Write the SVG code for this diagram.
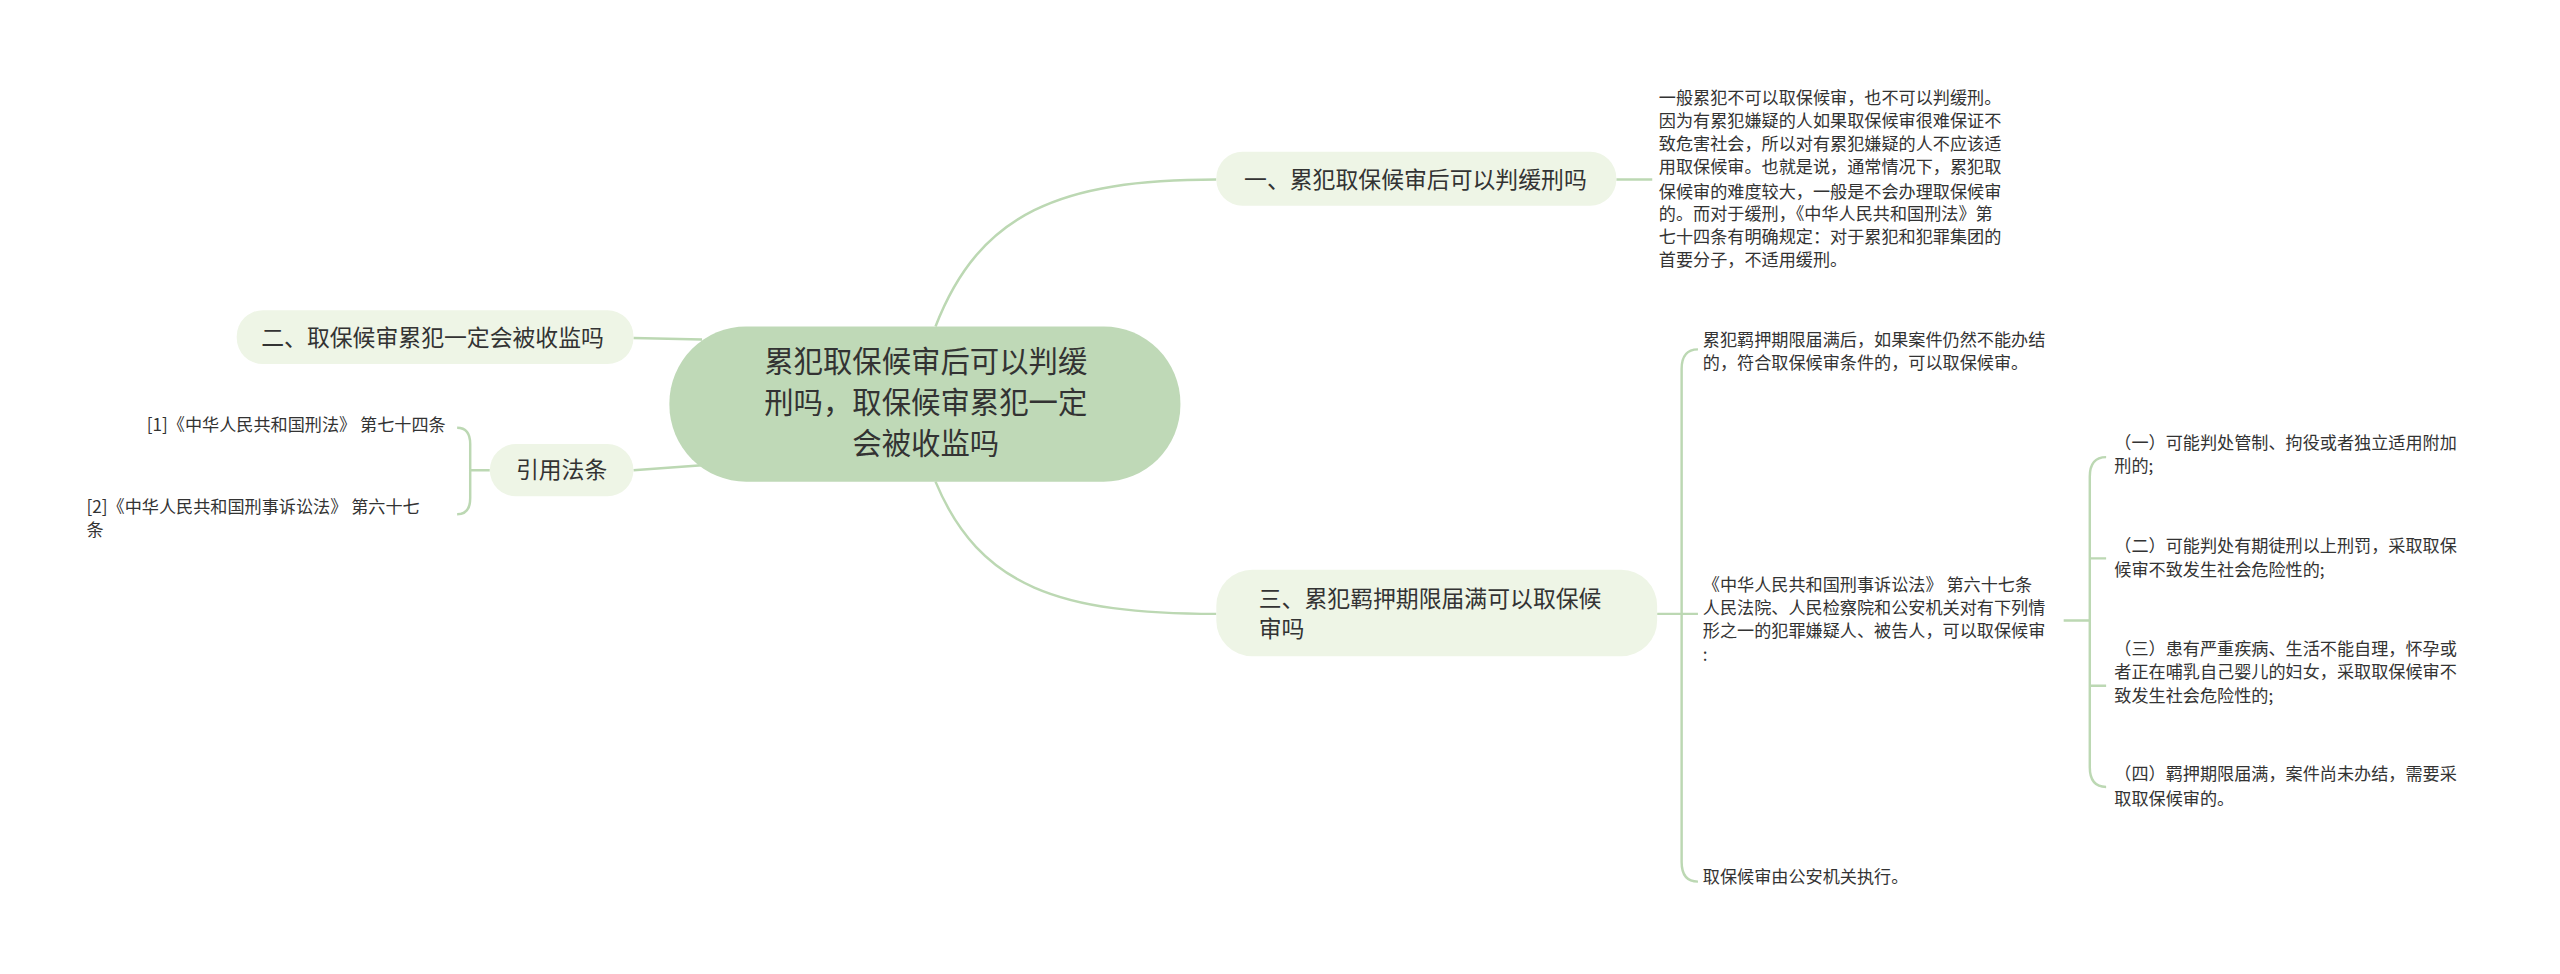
<svg xmlns="http://www.w3.org/2000/svg" width="2560" height="974" viewBox="0 0 2560 974">
<style>
.c{fill:none;stroke:#bcd8b3;stroke-width:1.5}
.n{fill:#eef5e6}
.t{font-family:"Noto Sans CJK SC","Liberation Sans",sans-serif;fill:#333}
.s{font-size:14px}
.l{font-size:10.5px}
</style>
<rect width="2560" height="974" fill="#fff"/>
<g transform="scale(1.63265)">
<g id="connectors">
<path class="c" d="M573,200 C600,130 650,110 745,110"/>
<path class="c" d="M573,295 C600,360 650,376 745,376"/>
<path class="c" d="M430,208 L388,207"/>
<path class="c" d="M430,285 L388,288"/>
<path class="c" d="M990,110 L1012,110"/>
<path class="c" d="M300,288 L288,288 M280,262 Q288,262 288,272 L288,305 Q288,315 280,315"/>
<path class="c" d="M1015,376 L1030,376 M1040,214 Q1030,214 1030,226 L1030,528 Q1030,540 1040,540 M1030,376 L1040,376"/>
<path class="c" d="M1264,380 L1280,380 M1290,280 Q1280,280 1280,292 L1280,470 Q1280,482 1290,482 M1280,342 Q1280,342 1290,342 M1280,420 L1290,420"/>
</g>
<g id="center">
<rect x="410" y="200" width="313" height="95" rx="47" fill="#bfd9b7"/>
<text class="t" font-size="18" text-anchor="middle"><tspan x="567" y="228">累犯取保候审后可以判缓</tspan><tspan x="567" y="253">刑吗，取保候审累犯一定</tspan><tspan x="567" y="278">会被收监吗</tspan></text>
</g>
<g id="n1"><rect class="n" x="745" y="93" width="245" height="33" rx="16"/><text class="t s" x="762" y="115">一、累犯取保候审后可以判缓刑吗</text></g>
<g id="n2"><rect class="n" x="145" y="190" width="243" height="33" rx="16"/><text class="t s" x="160" y="212">二、取保候审累犯一定会被收监吗</text></g>
<g id="n4"><rect class="n" x="300" y="272" width="88" height="32" rx="16"/><text class="t s" x="316" y="293">引用法条</text></g>
<g id="n3"><rect class="n" x="745" y="349" width="270" height="53" rx="22"/><text class="t s"><tspan x="771" y="372">三、累犯羁押期限届满可以取保候</tspan><tspan x="771" y="390">审吗</tspan></text></g>
<g id="leaf1"><text class="t l"><tspan x="1016" y="64">一般累犯不可以取保候审，也不可以判缓刑。</tspan><tspan x="1016" y="78">因为有累犯嫌疑的人如果取保候审很难保证不</tspan><tspan x="1016" y="92">致危害社会，所以对有累犯嫌疑的人不应该适</tspan><tspan x="1016" y="106">用取保候审。也就是说，通常情况下，累犯取</tspan><tspan x="1016" y="121">保候审的难度较大，一般是不会办理取保候审</tspan><tspan x="1016" y="135">的。而对于缓刑，《中华人民共和国刑法》第</tspan><tspan x="1016" y="149">七十四条有明确规定：对于累犯和犯罪集团的</tspan><tspan x="1016" y="163">首要分子，不适用缓刑。</tspan></text></g>
<g id="leaf2"><text class="t l"><tspan x="1043" y="212">累犯羁押期限届满后，如果案件仍然不能办结</tspan><tspan x="1043" y="226">的，符合取保候审条件的，可以取保候审。</tspan></text></g>
<g id="leaf3"><text class="t l"><tspan x="1043" y="362">《中华人民共和国刑事诉讼法》 第六十七条</tspan><tspan x="1043" y="376">人民法院、人民检察院和公安机关对有下列情</tspan><tspan x="1043" y="390">形之一的犯罪嫌疑人、被告人，可以取保候审</tspan><tspan x="1043" y="405">:</tspan></text></g>
<g id="leaf4"><text class="t l" x="1043" y="541">取保候审由公安机关执行。</text></g>
<g id="s1"><text class="t l"><tspan x="1295" y="275">（一）可能判处管制、拘役或者独立适用附加</tspan><tspan x="1295" y="289">刑的;</tspan></text></g>
<g id="s2"><text class="t l"><tspan x="1295" y="338">（二）可能判处有期徒刑以上刑罚，采取取保</tspan><tspan x="1295" y="353">候审不致发生社会危险性的;</tspan></text></g>
<g id="s3"><text class="t l"><tspan x="1295" y="401">（三）患有严重疾病、生活不能自理，怀孕或</tspan><tspan x="1295" y="415">者正在哺乳自己婴儿的妇女，采取取保候审不</tspan><tspan x="1295" y="430">致发生社会危险性的;</tspan></text></g>
<g id="s4"><text class="t l"><tspan x="1295" y="478">（四）羁押期限届满，案件尚未办结，需要采</tspan><tspan x="1295" y="493">取取保候审的。</tspan></text></g>
<g id="r1"><text class="t l" x="273" y="264" text-anchor="end">[1]《中华人民共和国刑法》 第七十四条</text></g>
<g id="r2"><text class="t l"><tspan x="53" y="314">[2]《中华人民共和国刑事诉讼法》 第六十七</tspan><tspan x="53" y="328">条</tspan></text></g>
</g>
</svg>
